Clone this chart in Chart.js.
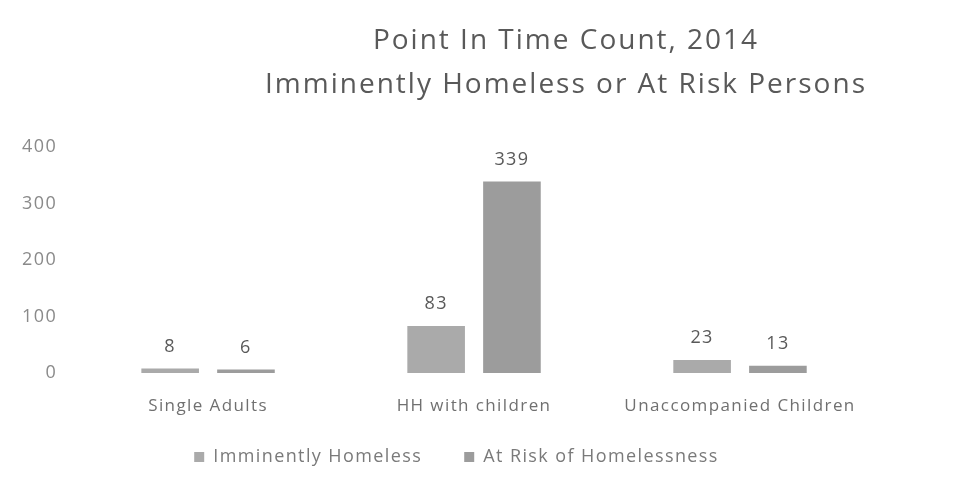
<!DOCTYPE html>
<html>
<head>
<meta charset="utf-8">
<script src="https://cdn.jsdelivr.net/npm/chart.js@4"></script>
<style>
  html, body { margin: 0; padding: 0; background: #fff; }
  #wrap { width: 959px; height: 480px; }
</style>
</head>
<body>
<div id="wrap"><canvas id="chart" width="959" height="480"></canvas></div>
<script>
const categories = ['Single Adults', 'HH with children', 'Unaccompanied Children'];
const imminentlyHomeless = [8, 83, 23];
const atRisk = [6, 339, 13];
const titleLines = ['Point In Time Count, 2014', 'Imminently Homeless or At Risk Persons'];

const FONT = '"Open Sans", sans-serif';
const SPACING = '1.4px';

// the scanned original is stretched sideways, so widen all text a little
const spacing = {
  id: 'spacing',
  beforeLayout(chart) { chart.ctx.letterSpacing = SPACING; },
  beforeDraw(chart) { chart.ctx.letterSpacing = SPACING; }
};

// legend in the original sits a bit right of the plot centre and closer to the axis labels
const legendShift = {
  id: 'legendShift',
  afterLayout(chart) {
    const lg = chart.legend;
    lg.left += 14; lg.right += 14;
    lg.top -= 26; lg.bottom -= 26;
  }
};

// title sits right of centre in the original, so it is drawn by hand
const titlePlugin = {
  id: 'offsetTitle',
  afterDraw(chart) {
    const ctx = chart.ctx;
    ctx.save();
    ctx.letterSpacing = '2px';
    ctx.fillStyle = '#595959';
    ctx.font = '28px ' + FONT;
    ctx.textAlign = 'center';
    ctx.textBaseline = 'alphabetic';
    ctx.fillText(titleLines[0], 566, 49);
    ctx.fillText(titleLines[1], 566, 93);
    ctx.restore();
  }
};

// value labels above each bar
const valueLabels = {
  id: 'valueLabels',
  afterDatasetsDraw(chart) {
    const ctx = chart.ctx;
    ctx.save();
    ctx.fillStyle = '#595959';
    ctx.font = '18px ' + FONT;
    ctx.textAlign = 'center';
    ctx.textBaseline = 'bottom';
    chart.data.datasets.forEach((ds, i) => {
      chart.getDatasetMeta(i).data.forEach((bar, j) => {
        ctx.fillText(ds.data[j], bar.x, bar.y - 13);
      });
    });
    ctx.restore();
  }
};

new Chart(document.getElementById('chart'), {
  type: 'bar',
  data: {
    labels: categories,
    datasets: [{
      label: 'Imminently Homeless',
      data: imminentlyHomeless,
      backgroundColor: '#aaaaaa',
      categoryPercentage: 0.57,
      barPercentage: 0.76
    }, {
      label: 'At Risk of Homelessness',
      data: atRisk,
      backgroundColor: '#9c9c9c',
      categoryPercentage: 0.57,
      barPercentage: 0.76
    }]
  },
  options: {
    responsive: false,
    animation: false,
    layout: {padding: {top: 147, left: 12, right: 86, bottom: -22}},
    plugins: {
      title: {display: false},
      tooltip: {enabled: false},
      legend: {
        position: 'bottom',
        labels: {
          boxWidth: 10,
          boxHeight: 10,
          padding: 42,
          color: '#7a7a7a',
          font: {family: FONT, size: 18, lineHeight: 1}
        }
      }
    },
    scales: {
      x: {
        grid: {display: false},
        border: {display: false},
        ticks: {color: '#707070', font: {family: FONT, size: 17, lineHeight: 1}, padding: 17}
      },
      y: {
        min: 0,
        max: 400,
        grid: {display: false},
        border: {display: false},
        ticks: {stepSize: 100, color: '#8a8a8a', font: {family: FONT, size: 18}, padding: 10}
      }
    }
  },
  plugins: [spacing, legendShift, titlePlugin, valueLabels]
});
</script>
</body>
</html>
